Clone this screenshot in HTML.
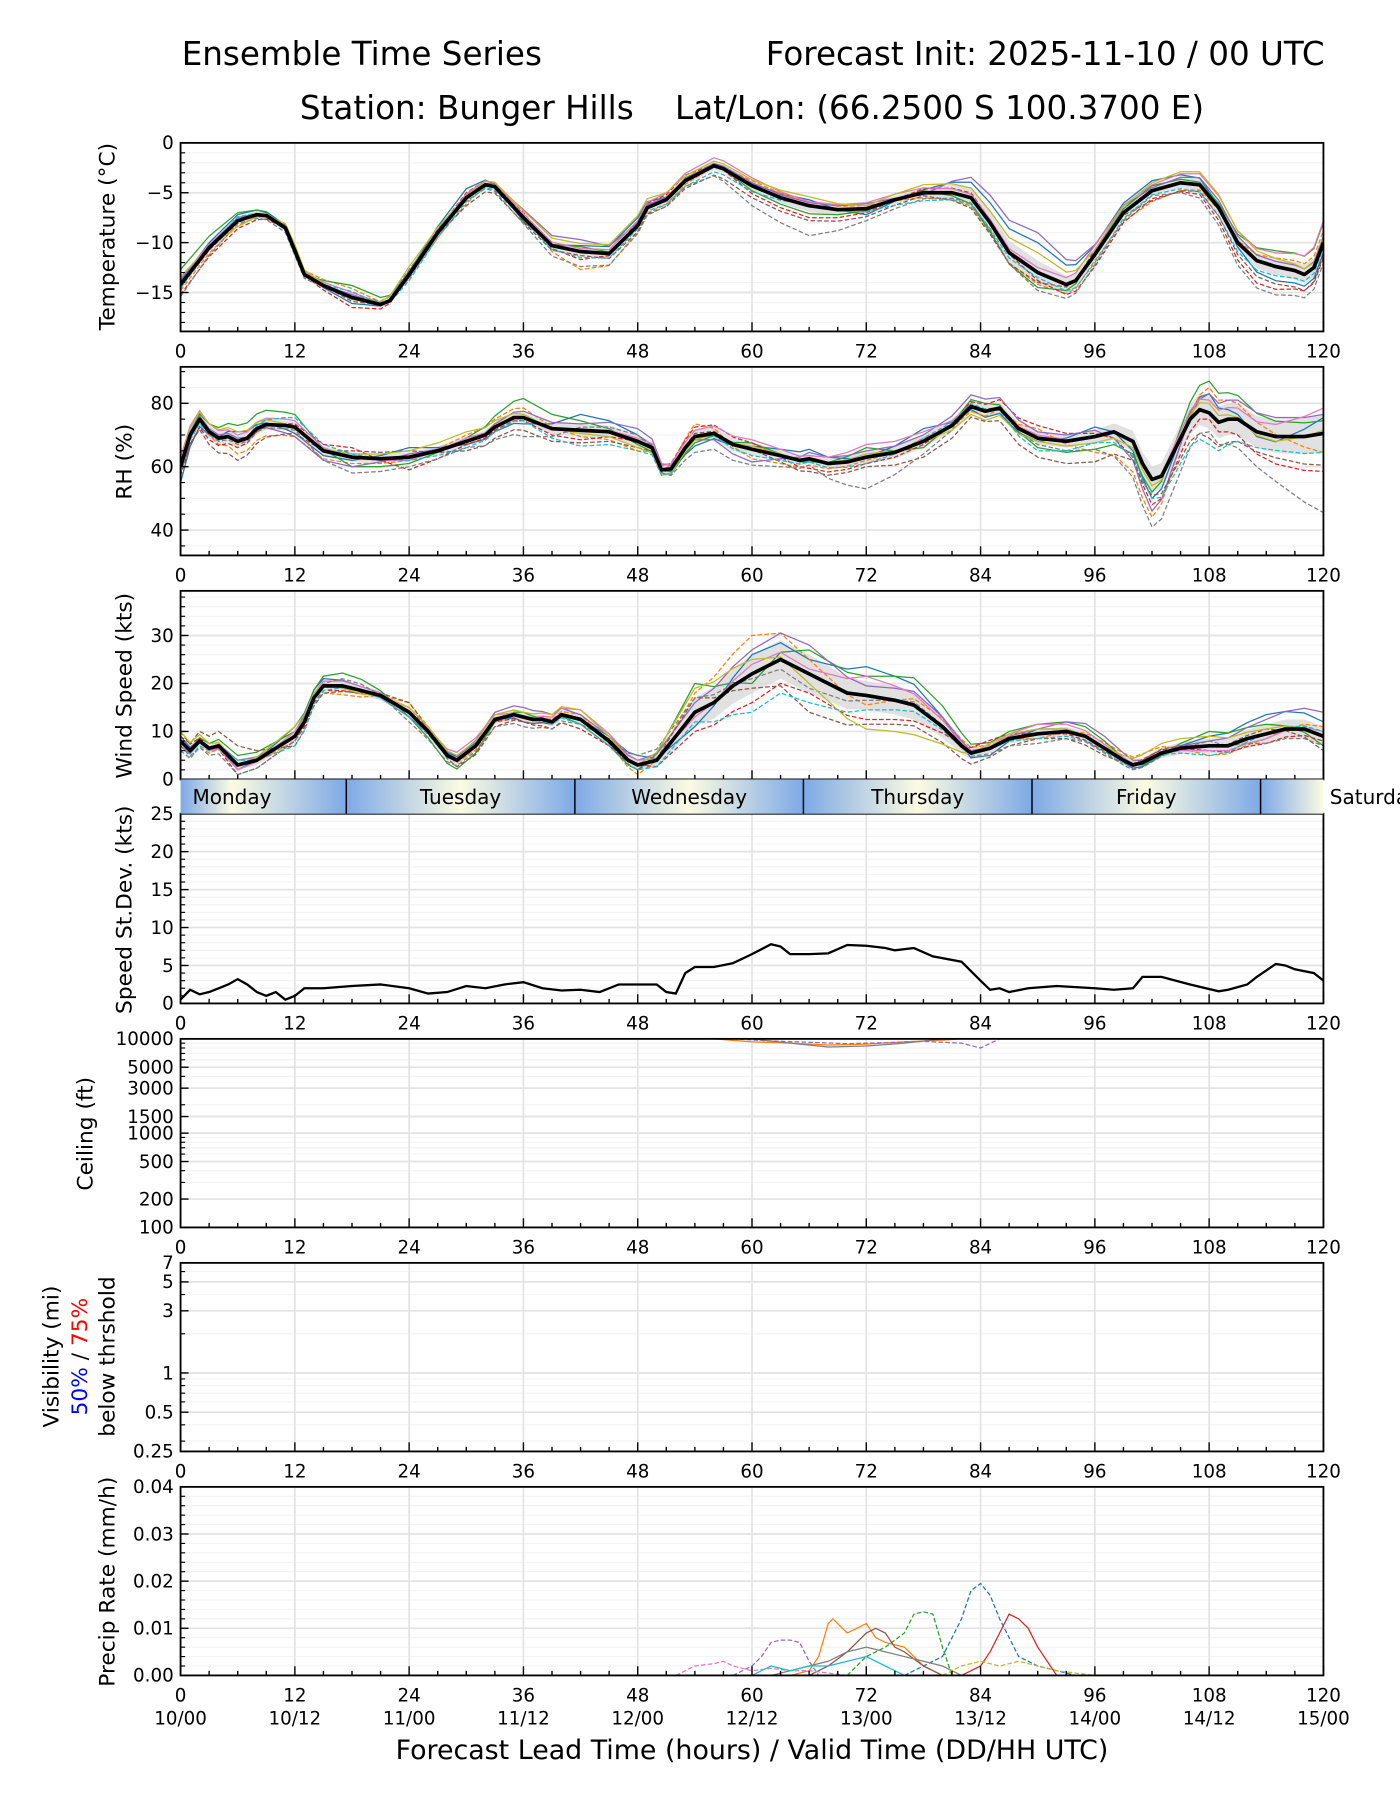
<!DOCTYPE html>
<html><head><meta charset="utf-8">
<style>
html,body{margin:0;padding:0;background:#fff;}
svg{display:block;font-family:"DejaVu Sans","Liberation Sans",sans-serif;}
</style></head>
<body>
<svg id="fig" xmlns="http://www.w3.org/2000/svg" width="1400" height="1800" viewBox="0 0 1225 1575">
<defs>
<linearGradient id="dayGrad" gradientUnits="userSpaceOnUse" x1="158" y1="0" x2="1158" y2="0"></linearGradient>
</defs>
<rect x="0" y="0" width="1225" height="1575" fill="#fff"/>
<text x="159" y="57" font-size="28.5">Ensemble Time Series</text>
<text x="1159" y="57" font-size="28.5" text-anchor="end">Forecast Init: 2025-11-10 / 00 UTC</text>
<text x="658" y="104" font-size="28.5" text-anchor="middle" xml:space="preserve">Station: Bunger Hills    Lat/Lon: (66.2500 S 100.3700 E)</text>
<g id="root"></g>
<text x="658" y="1539" font-size="23.5" text-anchor="middle">Forecast Lead Time (hours) / Valid Time (DD/HH UTC)</text>
</svg>
<script>
// ---------- DATA ----------
const tempHours=[0,3,6,8,9,11,12,13,15,18,21,22,24,27,30,32,33,36,39,42,45,48,49,51,53,56,57,60,63,66,69,72,75,78,81,83,85,87,90,93,94,96,99,102,105,107,109,111,113,115,117,118,119,120];
const tempMean=[-14.2,-10.5,-7.8,-7.2,-7.3,-8.5,-10.8,-13.2,-14.3,-15.5,-16.2,-15.8,-13.2,-9.0,-5.5,-4.2,-4.4,-7.5,-10.3,-10.9,-11.1,-8.3,-6.5,-5.7,-3.8,-2.3,-2.6,-4.3,-5.5,-6.3,-6.7,-6.6,-5.7,-5.0,-5.0,-5.5,-8.0,-11.0,-13.0,-14.2,-13.8,-11.2,-7.0,-4.8,-4.0,-4.2,-6.5,-10.0,-11.8,-12.4,-12.8,-13.2,-12.5,-10.0];
const rhHours=[0,1,2,3,4,5,6,7,8,9,11,12,13,15,18,21,24,27,30,32,33,35,36,39,42,45,48,49.5,50.5,51.5,53,54,56,58,60,63,65,66,68,70,72,75,78,81,83,84.5,86,88,90,93,96,98,100,101,102,103,104,106,107,108,109,110,111,113,115,118,120];
const rhMean=[60,70,75,71,69,69.5,68,69,72,73.3,73,72.5,70,65,63,62.5,63,65,68,70,72.5,75.5,75.5,72,71.5,71,68,66,59,59.3,66,69.5,70.5,67,65.5,63.5,62,62.5,61,61.5,63,64.5,68,73,79,77.5,78.5,72,69,68,69.5,71,68,61,56,57,63,75,78,77,74,75,75,71,69.5,69.5,70.5];
const windHours=[0,1,2,3,4,5,6,8,10,12,13,14,15,17,19,21,24,26,28,29,31,33,35,36,37,38,39,40,42,45,47,48,50,52,54,56,58,60,62,63,64,66,68,70,72,75,77,80,82,83,85,87,90,93,95,97,99,100,101,103,105,108,110,112,114,116,118,120];
const windMean=[8,6,8,6.5,7,5,3,4,6.5,9,12,17,19.5,19.5,18.5,17.5,14,10,5,4,7,12.5,13.5,13,12.5,12.5,12,13.5,12.5,8,4,3,4,9,14,16,19.5,22,24,25,24,22,20,18,17.5,16.5,15.5,11,7,5.5,6.5,8.5,9.5,10,9,6.5,4,3,3.5,5.5,6.5,7,7,8.5,9.5,10.5,10.5,9];
const sdHours=[0,1,2,3,4,5,6,7,8,9,10,11,12,13,15,18,21,24,26,28,30,32,34,36,38,40,42,44,46,48,50,51,52,53,54,56,58,60,62,63,64,66,68,70,72,74,75,77,79,82,84,85,86,87,89,92,96,98,100,101,103,106,109,110,112,113,115,116,117,119,120];
const sdValues=[0.5,1.8,1.2,1.5,2,2.5,3.2,2.5,1.5,1.0,1.5,0.5,1,2,2,2.3,2.5,2,1.3,1.5,2.3,2,2.5,2.8,2,1.7,1.8,1.5,2.5,2.5,2.5,1.5,1.3,4,4.8,4.8,5.3,6.5,7.8,7.5,6.5,6.5,6.6,7.7,7.6,7.3,7.0,7.3,6.2,5.5,3,1.8,2,1.5,2,2.3,2,1.8,2,3.5,3.5,2.5,1.6,1.8,2.5,3.5,5.2,5,4.5,4,3];
// member offsets on a 6-hourly grid (0..120)
const offHours=[0,6,12,18,24,30,36,42,48,54,60,66,72,78,84,90,96,102,108,114,120];
const tempOff=[
[0.4,0.6,0.2,-0.6,0.3,0.9,-0.4,0.6,0.8,-0.3,0.2,0.6,-0.6,0.3,1.8,3.0,0.9,1.0,0.6,-1.5,-1.0],
[-0.6,-0.5,0.3,0.9,-0.4,-0.6,0.6,-1.8,-0.6,-0.3,0.5,0.4,0.3,-0.5,-0.9,-1.2,-0.6,-1.1,-0.4,0.8,1.2],
[1.5,0.8,-0.2,1.2,0.2,0.3,-0.3,0.5,-0.2,0.4,-0.5,-0.8,-0.2,0.2,-0.8,-1.5,0.3,0.5,0.2,1.5,2.0],
[-1.0,-0.8,0.1,-1.0,0.1,0.5,0.2,-0.8,0.4,0.6,-0.8,-1.2,-0.4,0.4,0.5,-0.8,-1.2,-0.8,-1.0,-2.5,-1.2],
[0.2,0.3,-0.3,0.3,-0.3,-0.2,0.8,1.2,0.3,0.2,0.3,0.3,0.5,-0.2,2.5,4.0,1.0,0.3,0.8,0.5,0.6],
[-0.3,-0.2,0.4,-0.4,0.4,-0.8,-0.5,-0.4,-0.6,-0.8,-1.2,-1.5,-0.8,-0.3,-1.2,-1.0,0.5,-1.0,-0.6,-1.8,-1.5],
[0.6,0.1,0.2,0.5,-0.2,0.4,0.4,0.3,0.5,0.8,0.8,0.4,0.6,0.5,0.3,0.5,0.9,0.6,1.2,1.2,2.2],
[-1.2,-0.3,-0.5,0.2,0.5,-0.3,-0.6,-1.5,-0.8,-0.5,-2.0,-3.0,-1.2,-0.6,-0.5,-1.8,-1.0,-0.5,-1.5,-3.0,-2.0],
[0.8,-0.6,0.6,-0.2,0.8,0.2,0.7,0.8,1.0,0.4,0.6,0.9,0.3,0.8,1.0,2.0,0.5,0.8,1.4,0.9,0.4],
[-0.4,0.4,-0.4,0.6,-0.6,-0.4,-0.2,-0.6,-0.3,-0.6,-0.6,0.1,-0.3,-0.8,-0.6,-0.5,-0.8,-0.4,-0.8,-1.0,-0.5]];
const rhOff=[
[-5,3,-2,-1,3,-1,-2,5,2,-3,1,3,0,4,-2,-1,3,-6,6,-3,5],
[2,-4,-3,-2,-1,2,3,-2,-3,4,-3,-2,-1,1,-2,3,-5,-12,8,2,-6],
[0,5,4,-3,-2,1,6,3,-1,-2,2,-1,3,-2,3,-3,-4,-4,10,5,4],
[-3,-2,1,3,-4,-1,-1,-3,0,3,2,-3,-2,-1,2,4,1,-8,-2,-8,-12],
[1,1,-3,-3,1,0,2,2,4,-1,-4,2,2,2,4,2,2,-10,6,6,6],
[-2,-6,-2,2,2,-3,-4,-4,-2,1,0,-4,-3,-5,-3,-6,-8,-5,-8,-6,-10],
[3,2,2,0,-1,1,0,0,1,2,3,1,4,3,0,1,0,0,4,3,8],
[-1,-1,-1,-5,-3,-2,-6,1,2,-5,-5,-2,-10,-4,1,-2,-4,-15,-6,-12,-25],
[2,3,0,1,2,3,1,-1,-2,-1,1,0,1,0,-3,-1,-2,-2,3,-2,1],
[-2,0,3,1,-1,-2,-1,-5,-3,0,-2,-1,-2,1,1,-4,-2,-6,-10,-4,-6]];
const windOff=[
[1,-1,2,1,0,1,-1,0,2,-3,4,3,6,4,-2,1,0,-1,2,4,3],
[-2,0,-1,-2,2,-1,0,1,-2,4,8,3,-2,2,1,-1,1,2,-2,-1,2],
[0,2,1,3,-1,-2,1,-1,-1,6,-2,5,4,6,1,2,2,-1,3,2,-2],
[2,-2,-1,-1,1,0,-1,-2,0,-4,-6,-4,-5,-3,2,0,-1,1,-1,-2,-1],
[-1,1,0,0,-1,1,2,1,1,2,5,6,2,3,0,1,3,0,1,3,5],
[1,4,-2,-1,2,-2,-1,0,-1,3,-3,-8,-6,-4,-2,-1,-2,1,0,1,-3],
[0,-1,1,1,0,2,0,2,1,-1,2,1,4,2,0,2,1,0,-1,-1,1],
[-1,-2,-1,2,-2,-1,-2,-1,2,3,-1,-3,-1,1,-1,-2,-1,-1,1,-2,-2],
[2,0,2,-1,1,1,1,2,0,5,3,-2,-7,-6,1,1,0,2,2,1,0],
[-2,1,-2,0,-1,0,0,-1,-1,-2,-8,-6,-3,-1,0,-1,-1,0,-2,0,1]];
const tempSpread=[0.4,0.4,0.3,0.3,0.4,0.3,0.3,0.5,0.4,0.4,0.5,0.6,0.4,0.4,1.2,1.2,0.5,0.5,0.6,0.8,1.0];
const rhSpread=[2,2,1.5,1.5,1.5,1.5,1.5,2,2,2,2,1.5,2,2,2,2,2,4,5,5,6];
const windSpread=[1,1,1,1,1,1,1,1,1,3,4,4,3,3,1,1,1,1,1.5,2,2];
// ceiling members (ft)
const ceilHours=[[56,60,64,68,72,76,80,82],[58,62,66,70,74,78,82,84,86],[60,64,68,72,76,80]];
const ceilValues=[[10000,9300,9000,8600,8800,9300,9700,10000],[10000,9500,9200,8900,9100,9400,9000,8000,10000],[10000,9000,8200,8400,9000,10000]];
// precip members (mm/h)
const precipHours=[
[76,78,80,82,83,84,85,86,87,88,90,92,94],
[64,66,67,68,68.5,69,70,71,72,73,74,76,78,80],
[70,72,74,76,77,78,79,80,81],
[82,84,85,86,87,88,89,90,92],
[58,60,61,62,63,64,65,66,67],
[66,68,70,72,73,74,75,76,78,80],
[52,54,56,57,58,60,62,64,66,68,70],
[62,64,66,68,70,72,74,76,78,80,82],
[80,82,84,86,88,90,92,94,96],
[60,62,64,66,68,70,72,74,76]];
const precipValues=[
[0,0.002,0.004,0.012,0.018,0.0195,0.017,0.012,0.008,0.004,0.002,0.001,0],
[0,0.001,0.004,0.011,0.012,0.011,0.009,0.01,0.011,0.008,0.007,0.006,0.002,0],
[0,0.004,0.006,0.009,0.013,0.0135,0.013,0.006,0],
[0,0.002,0.005,0.009,0.013,0.012,0.01,0.006,0],
[0,0.002,0.004,0.007,0.0075,0.0075,0.007,0.003,0],
[0,0.002,0.005,0.009,0.01,0.009,0.006,0.005,0.002,0],
[0,0.002,0.0025,0.003,0.002,0.001,0.0015,0.001,0.001,0.0005,0],
[0,0.001,0.002,0.003,0.005,0.006,0.005,0.004,0.003,0.002,0],
[0,0.002,0.003,0.002,0.003,0.002,0.001,0.0005,0],
[0,0.002,0.001,0.002,0.002,0.003,0.004,0.002,0]];
const xTickLabels=['0','12','24','36','48','60','72','84','96','108','120'];
const validLabels=['10/00','10/12','11/00','11/12','12/00','12/12','13/00','13/12','14/00','14/12','15/00'];
const dayNames=['Monday','Tuesday','Wednesday','Thursday','Friday','Saturday'];
const colors=['#1f77b4','#ff7f0e','#2ca02c','#d62728','#9467bd','#8c564b','#e377c2','#7f7f7f','#bcbd22','#17becf'];

// ---------- DRAWING ----------
const NS='http://www.w3.org/2000/svg';
const root=document.getElementById('root');
const X0=158,X1=1158;
const TICK_FS=16;
function xs(h){return X0+h*(X1-X0)/120;}
function mk(tag,attrs,parent){const e=document.createElementNS(NS,tag);for(const k in attrs)e.setAttribute(k,attrs[k]);(parent||root).appendChild(e);return e;}
function interp(hs,vs,h){if(h<=hs[0])return vs[0];for(let i=1;i<hs.length;i++){if(h<=hs[i]){const t=(h-hs[i-1])/(hs[i]-hs[i-1]);return vs[i-1]+t*(vs[i]-vs[i-1]);}}return vs[vs.length-1];}
function linScale(min,max,top,bot){return v=>bot-(v-min)/(max-min)*(bot-top);}
function logScale(min,max,top,bot){const a=Math.log10(min),b=Math.log10(max);return v=>bot-(Math.log10(v)-a)/(b-a)*(bot-top);}
function pathD(hs,vs,ys){return hs.map((h,i)=>(i?'L':'M')+xs(h).toFixed(2)+','+ys(vs[i]).toFixed(2)).join('');}

const panels=[
 {key:'temperature',top:125,bot:290,ys:linScale(-18.9,0,125,290),majors:[0,-5,-10,-15],minors:[-1,-2,-3,-4,-6,-7,-8,-9,-11,-12,-13,-14,-16,-17,-18],fmt:v=>v===0?'0':'\u2212'+Math.abs(v)},
 {key:'rh',top:321,bot:486,ys:linScale(32,91.5,321,486),majors:[40,60,80],minors:[35,45,50,55,65,70,75,85,90],fmt:v=>String(v)},
 {key:'wind',top:517,bot:682,ys:linScale(0,39.3,517,682),majors:[0,10,20,30],minors:[2,4,6,8,12,14,16,18,22,24,26,28,32,34,36,38],fmt:v=>String(v)},
 {key:'stdev',top:712,bot:878,ys:linScale(0,25,712,878),majors:[0,5,10,15,20,25],minors:[1,2,3,4,6,7,8,9,11,12,13,14,16,17,18,19,21,22,23,24],fmt:v=>String(v)},
 {key:'ceiling',top:909,bot:1074,ys:logScale(100,10000,909,1074),majors:[100,200,500,1000,1500,3000,5000,10000],minors:[300,400,600,700,800,900,2000,4000,6000,7000,8000,9000],fmt:v=>String(v)},
 {key:'visibility',top:1105,bot:1270,ys:logScale(0.25,7,1105,1270),majors:[0.25,0.5,1,3,5,7],minors:[0.3,0.4,0.6,0.7,0.8,0.9,2,4,6],fmt:v=>String(v)},
 {key:'precip',top:1301,bot:1466,ys:linScale(0,0.04,1301,1466),majors:[0,0.01,0.02,0.03,0.04],minors:[0.002,0.004,0.006,0.008,0.012,0.014,0.016,0.018,0.022,0.024,0.026,0.028,0.032,0.034,0.036,0.038],fmt:v=>v.toFixed(2)}
];
const P={};
panels.forEach(p=>{
 P[p.key]=p;
 const g=mk('g',{});
 
 
 p.g=g;
 const cp=mk('clipPath',{id:'clip-'+p.key},document.querySelector('defs'));
 
 
 mk('rect',{x:X0,y:p.top,width:X1-X0,height:p.bot-p.top},cp);
 p.minors.forEach(v=>{const l=mk('line',{x1:X0,x2:X1,y1:p.ys(v),y2:p.ys(v),stroke:'#f3f3f3','stroke-width':1},g);
  
  });
 p.majors.forEach(v=>{const l=mk('line',{x1:X0,x2:X1,y1:p.ys(v),y2:p.ys(v),stroke:'#e3e3e3','stroke-width':1.5},g);
  
  });
 for(let h=12;h<120;h+=12){const l=mk('line',{x1:xs(h),x2:xs(h),y1:p.top,y2:p.bot,stroke:'#e3e3e3','stroke-width':1.5},g);
  
  }
 p.plot=mk('g',{'clip-path':'url(#clip-'+p.key+')'},g);
 
 
});

function finishPanel(p){
 const g=p.g;
 const fr=mk('rect',{x:X0,y:p.top,width:X1-X0,height:p.bot-p.top,fill:'none',stroke:'#000','stroke-width':1.6},g);
 
 
 for(let h=0;h<=120;h+=3){const major=h%12===0;const len=major?8:4;
  const t=mk('line',{x1:xs(h),x2:xs(h),y1:p.bot,y2:p.bot-len,stroke:'#000','stroke-width':1.2},g);
  
  }
 p.majors.forEach(v=>{const t=mk('line',{x1:X0,x2:X0+7,y1:p.ys(v),y2:p.ys(v),stroke:'#000','stroke-width':1.2},g);
  
  
  const tx=mk('text',{x:X0-6,y:p.ys(v)+5.5,'font-size':TICK_FS,'text-anchor':'end'},g);
  
  
  tx.textContent=p.fmt(v);});
 p.minors.forEach(v=>{const t=mk('line',{x1:X0,x2:X0+4,y1:p.ys(v),y2:p.ys(v),stroke:'#000','stroke-width':1},g);
  
  });
 if(p.key!=='wind'){
  xTickLabels.forEach((s,i)=>{const tx=mk('text',{x:xs(i*12),y:p.bot+23,'font-size':TICK_FS,'text-anchor':'middle'},g);
   
   
   tx.textContent=s;});
 }
}

function drawMembers(p,hours,mean,offs,spread,clampMin){
 const up=hours.map((h,i)=>mean[i]+interp(offHours,spread,h));
 const lo=hours.map((h,i)=>Math.max(clampMin,mean[i]-interp(offHours,spread,h)));
 let d=pathD(hours,up,p.ys);
 for(let i=hours.length-1;i>=0;i--)d+='L'+xs(hours[i]).toFixed(2)+','+p.ys(lo[i]).toFixed(2);
 const band=mk('path',{d:d+'Z',fill:'#d9d9d9','fill-opacity':0.8,stroke:'none'},p.plot);
 
 
 offs.forEach((o,m)=>{
  const vals=hours.map((h,i)=>Math.max(clampMin,mean[i]+interp(offHours,o,h)));
  const ln=mk('path',{d:pathD(hours,vals,p.ys),fill:'none',stroke:colors[m],'stroke-width':1.1},p.plot);
  if(m%2===1)ln.setAttribute('stroke-dasharray','4,2');
  
  
 });
 const ml=mk('path',{d:pathD(hours,mean,p.ys),fill:'none',stroke:'#000','stroke-width':3.2,'stroke-linejoin':'round'},p.plot);
 
 
}
drawMembers(P.temperature,tempHours,tempMean,tempOff,tempSpread,-100);
drawMembers(P.rh,rhHours,rhMean,rhOff,rhSpread,0);
drawMembers(P.wind,windHours,windMean,windOff,windSpread,0);
const sdl=mk('path',{d:pathD(sdHours,sdValues,P.stdev.ys),fill:'none',stroke:'#000','stroke-width':2},P.stdev.plot);


ceilHours.forEach((hs,m)=>{const l=mk('path',{d:pathD(hs,ceilValues[m],P.ceiling.ys),fill:'none',stroke:colors[(m*3+1)%10],'stroke-width':1.1},P.ceiling.plot);
 if(m%2===1)l.setAttribute('stroke-dasharray','4,2');
 
 });
precipHours.forEach((hs,m)=>{const l=mk('path',{d:pathD(hs,precipValues[m],P.precip.ys),fill:'none',stroke:colors[m],'stroke-width':1.1},P.precip.plot);
 if(m%2===0)l.setAttribute('stroke-dasharray','4,2');
 
 });
panels.forEach(finishPanel);

const grad=document.getElementById('dayGrad');
for(let k=-1;k<=5;k++){
 [[5.4+24*k,'#fbfbe2'],[17.4+24*k,'#7ea9e6']].forEach(([h,c])=>{
  const off=h/120; if(off<-0.3||off>1.3)return;
  const s=mk('stop',{offset:off,'stop-color':c},grad);
  
  });
}
const stops=[...grad.children].sort((a,b)=>a.getAttribute('offset')-b.getAttribute('offset'));
stops.forEach(s=>grad.appendChild(s));
const dayG=mk('g',{});


const dr=mk('rect',{x:X0,y:682,width:X1-X0,height:30,fill:'url(#dayGrad)'},dayG);


for(let k=0;k<5;k++){const l=mk('line',{x1:xs(17.4+24*k),x2:xs(17.4+24*k),y1:682,y2:712,stroke:'#000','stroke-width':1.3},dayG);
 
 }
dayNames.forEach((n,k)=>{const t=mk('text',{x:xs(5.4+24*k),y:703.5,'font-size':17.5,'text-anchor':'middle'},dayG);
 
 
 t.textContent=n;});

validLabels.forEach((s,i)=>{const t=mk('text',{x:xs(i*12),y:1509,'font-size':TICK_FS,'text-anchor':'middle'});
 
 
 t.textContent=s;});

function ytitle(txt,x,y,name,color){const t=mk('text',{x:x,y:y,'font-size':19,'text-anchor':'middle',transform:'rotate(-90 '+x+' '+y+')',fill:color||'#000'});
 
 
 t.textContent=txt;return t;}
ytitle('Temperature (\u00b0C)',100,207,'temperature-axis-title');
ytitle('RH (%)',115,404,'rh-axis-title');
ytitle('Wind Speed (kts)',115,600,'wind-axis-title');
ytitle('Speed St.Dev. (kts)',115,796,'stdev-axis-title');
ytitle('Ceiling (ft)',81,992,'ceiling-axis-title');
ytitle('Visibility (mi)',51,1187,'visibility-axis-title');
const vt=mk('text',{x:76,y:1187,'font-size':19,'text-anchor':'middle',transform:'rotate(-90 76 1187)'});


const s1=mk('tspan',{fill:'#0000ff'},vt);s1.textContent='50%';


const s2=mk('tspan',{fill:'#000'},vt);s2.textContent=' / ';


const s3=mk('tspan',{fill:'#ff0000'},vt);s3.textContent='75%';


ytitle('below thrshold',100,1187,'visibility-below-threshold-title');
ytitle('Precip Rate (mm/h)',100,1384,'precip-axis-title');
</script>
</body></html>
